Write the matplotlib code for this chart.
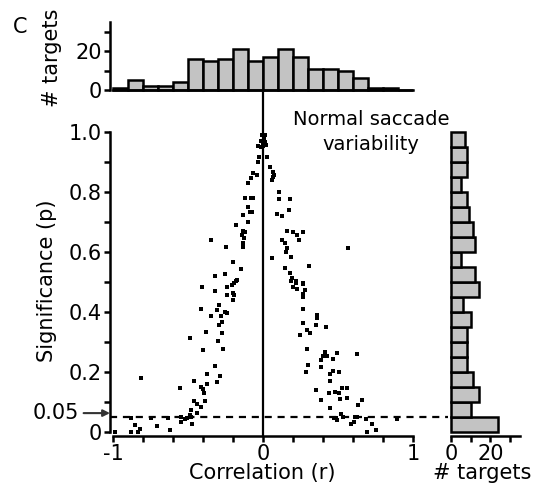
import matplotlib

matplotlib.use("Agg")
import matplotlib.pyplot as plt
import numpy as np

plt.rcParams["font.family"] = ["DejaVu Sans"]
plt.rcParams["font.size"] = 15

FILL = "#c3c3c3"
INK = "black"

# correlation (r) histogram, 20 bins of 0.1 from -1 to 1
r_edges = np.linspace(-1.0, 1.0, 21)
r_counts = [1, 5, 2, 2, 4, 16, 15, 16, 21, 15, 17, 21, 17, 11, 11, 10, 6, 1, 1, 0]

# significance (p) histogram, 20 bins of 0.05 from 0 to 1
p_edges = np.linspace(0.0, 1.0, 21)
p_counts = [24, 10, 14, 11, 8, 8, 8, 10, 6, 14, 12, 5, 12, 11, 9, 8, 5, 8, 8, 7]

# scatter: one point per target
corr_r = [
    -0.007, 0.007, -0.013, 0.0, -0.033, -0.013, -0.027, -0.033, -0.067, -0.04,
    -0.08, -0.10, -0.12, -0.08, -0.067, -0.10, -0.087, -0.073, -0.133, -0.10,
    -0.18, -0.133, -0.12, -0.14, -0.127, -0.133, -0.133, -0.347, -0.247, -0.20,
    -0.147, -0.32, -0.253, -0.173, -0.193,
    0.013, 0.013, 0.02, 0.0, 0.027, 0.047, 0.067, 0.067, 0.06, 0.073,
    0.107, 0.107, 0.18, 0.093, 0.127, 0.173, 0.16, 0.20, 0.227, 0.267,
    0.24, 0.127, 0.147, 0.16, 0.153, 0.187, 0.567, 0.06, 0.147, 0.307,
    0.18, 0.193, 0.22, 0.267,
    -0.407, -0.32, -0.24, -0.207, -0.18, -0.24, -0.20, -0.193, -0.20, -0.413,
    -0.347, -0.307, -0.293, -0.28, -0.253, -0.24, -0.293, -0.273, -0.38, -0.273,
    -0.487, -0.30, -0.40, -0.267, -0.32, -0.373, -0.813, -0.287, -0.46, -0.307,
    -0.553, -0.413, -0.40, -0.373, -0.393, -0.46, -0.387, -0.44, -0.413, -0.48,
    -0.44, -0.487, -0.507, -0.52, -0.547, -0.48, -0.547, -0.473, -0.88, -0.747,
    -0.633, -0.853, -0.707, -0.62, -0.987, -0.88, -0.833, -0.82,
    0.187, 0.22, 0.267, 0.20, 0.227, 0.28, 0.267, 0.267, 0.267, 0.36,
    0.36, 0.353, 0.42, 0.267, 0.293, 0.313, 0.247, 0.293, 0.413, 0.493,
    0.40, 0.427, 0.387, 0.467, 0.627, 0.30, 0.387, 0.287, 0.447, 0.467,
    0.507, 0.447, 0.353, 0.44, 0.48, 0.507, 0.527, 0.56, 0.513, 0.56,
    0.387, 0.66, 0.633, 0.447, 0.52, 0.473, 0.493, 0.487, 0.533, 0.613,
    0.627, 0.687, 0.893, 0.607, 0.587, 0.727, 0.753, 0.693,
]
signif_p = [
    0.99, 0.98, 0.97, 0.963, 0.953, 0.95, 0.917, 0.90, 0.863, 0.857,
    0.847, 0.83, 0.78, 0.78, 0.78, 0.75, 0.733, 0.733, 0.723, 0.70,
    0.69, 0.67, 0.667, 0.657, 0.647, 0.63, 0.617, 0.64, 0.617, 0.567,
    0.543, 0.52, 0.527, 0.507, 0.497,
    0.99, 0.967, 0.957, 0.953, 0.917, 0.883, 0.867, 0.85, 0.84, 0.857,
    0.80, 0.777, 0.777, 0.727, 0.72, 0.74, 0.67, 0.667, 0.657, 0.667,
    0.64, 0.64, 0.63, 0.613, 0.60, 0.583, 0.613, 0.58, 0.547, 0.553,
    0.53, 0.513, 0.503, 0.497,
    0.483, 0.47, 0.483, 0.49, 0.503, 0.457, 0.463, 0.457, 0.44, 0.41,
    0.387, 0.407, 0.423, 0.387, 0.40, 0.397, 0.357, 0.367, 0.333, 0.33,
    0.313, 0.303, 0.273, 0.277, 0.22, 0.193, 0.18, 0.187, 0.17, 0.167,
    0.147, 0.15, 0.143, 0.16, 0.13, 0.103, 0.103, 0.093, 0.083, 0.073,
    0.063, 0.057, 0.047, 0.043, 0.05, 0.05, 0.033, 0.027, 0.047, 0.047,
    0.047, 0.023, 0.02, 0.007, 0.0, 0.0, 0.0, 0.01,
    0.503, 0.497, 0.493, 0.483, 0.477, 0.473, 0.46, 0.45, 0.41, 0.39,
    0.38, 0.357, 0.35, 0.363, 0.34, 0.33, 0.323, 0.277, 0.267, 0.263,
    0.253, 0.253, 0.24, 0.243, 0.26, 0.223, 0.217, 0.20, 0.193, 0.203,
    0.20, 0.17, 0.14, 0.13, 0.133, 0.13, 0.147, 0.147, 0.11, 0.113,
    0.107, 0.107, 0.09, 0.08, 0.06, 0.047, 0.04, 0.047, 0.05, 0.05,
    0.05, 0.043, 0.043, 0.033, 0.027, 0.027, 0.007, 0.0,
]

ALPHA = 0.05
XLIM = (-1.02, 1.2)
YLIM = (-0.0133, 1.1333)
LW = 1.8

W, H = 535, 494
fig = plt.figure(figsize=(W / 100, H / 100), dpi=100, facecolor="white")
ax = fig.add_axes([110 / W, 58 / H, 333 / W, 344 / H])
axT = fig.add_axes([110 / W, 404 / H, 333 / W, 68 / H])
axR = fig.add_axes([451 / W, 58 / H, 69 / W, 344 / H])
ax.set_zorder(3)
ax.patch.set_alpha(0)


def base(a):
    for s in ("top", "right"):
        a.spines[s].set_visible(False)
    for s in ("left", "bottom"):
        a.spines[s].set_linewidth(LW)
    a.tick_params(direction="out", length=4, width=LW, colors=INK, pad=2)


# ---- main scatter ----
base(ax)
ax.set_xlim(*XLIM)
ax.set_ylim(*YLIM)
ax.spines["left"].set_bounds(0, 1)
ax.spines["bottom"].set_bounds(-1, 1)
ax.axvline(0, color=INK, lw=1.6)
ax.plot([-1.02, 1.23], [ALPHA, ALPHA], color=INK, lw=1.6,
        ls=(0, (3.2, 2.6)), clip_on=False)
ax.plot(corr_r, signif_p, "s", ms=2.3, mew=0, color=INK, clip_on=False)

xt = np.round(np.arange(-1, 1.01, 0.2), 1)
ax.set_xticks(xt)
ax.set_xticklabels(["-1" if v == -1 else "0" if v == 0 else "1" if v == 1 else ""
                    for v in xt])
yt = np.round(np.arange(0, 1.01, 0.1), 1)
ax.set_yticks(yt)
ax.set_yticklabels(["0" if v == 0 else f"{v:.1f}" if round(v * 10) % 2 == 0 else ""
                    for v in yt])
ax.set_xlabel("Correlation (r)")
ax.xaxis.set_label_coords(0.456, -0.078)
ax.set_ylabel("Significance (p)")
ax.yaxis.set_label_coords(-0.16, 0.45)
ax.annotate("0.05", xy=(0.0, 0.063), xycoords=("axes fraction", "data"),
            xytext=(-22, 0), textcoords="offset points", ha="right", va="center",
            arrowprops=dict(arrowstyle="-|>", color="#333333", lw=1.5,
                            mutation_scale=10, shrinkA=1, shrinkB=0))
ax.text(0.72, 1.0, "Normal saccade\nvariability", ha="center", va="center",
        fontsize=14, linespacing=1.4)

# ---- top histogram of r ----
base(axT)
axT.set_xlim(*XLIM)
axT.set_ylim(0, 35)
axT.spines["bottom"].set_visible(False)
axT.bar(r_edges[:-1], r_counts, width=0.1, align="edge", color=FILL,
        edgecolor=INK, lw=LW, clip_on=False)
axT.plot([-1, 1], [0, 0], color=INK, lw=LW, clip_on=False)
axT.set_xticks([])
axT.set_yticks([0, 10, 20, 30])
axT.set_yticklabels(["0", "", "20", ""])
axT.set_ylabel("# targets")
axT.yaxis.set_label_coords(-0.145, 0.48)

# ---- right histogram of p ----
base(axR)
axR.set_ylim(*YLIM)
axR.set_xlim(0, 35)
axR.spines["left"].set_visible(False)
axR.barh(p_edges[:-1], p_counts, height=0.05, align="edge", color=FILL,
         edgecolor=INK, lw=LW, clip_on=False)
axR.set_yticks([])
axR.set_xticks([0, 10, 20, 30])
axR.set_xticklabels(["0", "", "20", ""])
axR.set_xlabel("# targets")
axR.xaxis.set_label_coords(0.45, -0.078)

fig.text(20 / W, 1 - 27 / H, "C", ha="center", va="center")

fig.savefig("out.png", dpi=100, facecolor="white")
